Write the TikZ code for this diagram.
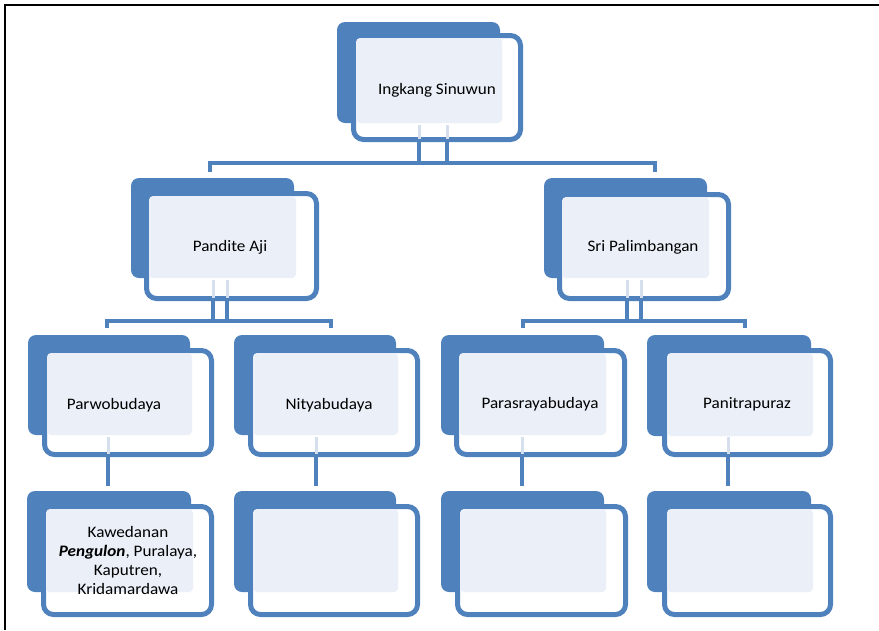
\documentclass[tikz,border=0pt]{standalone}
\usepackage{fontspec}
\setmainfont{Carlito}[FakeStretch=1.07]
\definecolor{dkblue}{RGB}{79,129,189}
\definecolor{ltfill}{RGB}{234,239,248}
\definecolor{faint}{RGB}{214,223,238}
\tikzset{
  conn/.style={draw=dkblue, line width=4pt},
  faintconn/.style={draw=faint, line width=3pt},
  lbl/.style={font=\fontsize{16}{19}\selectfont, text=black, align=center, inner sep=0pt},
}
% name, back x1,y1,x2,y2, front(outer) x1,y1,x2,y2
\newcommand\obox[9]{%
  \fill[dkblue, rounded corners=8pt] (#2,#3) rectangle (#4,#5);
  \draw[dkblue, line width=5pt, fill=white, rounded corners=10pt] (#6+2.5,#7+2.5) rectangle (#8-2.5,#9-2.5);
  \fill[ltfill, rounded corners=4pt] (#6+5,#7+5) rectangle (#4+2,#5);
  \coordinate (#1) at ({(#6+#8)/2},{(#7+#9)/2});
  \coordinate (#1-bt) at ({(#2+#4)/2},#3);
  \coordinate (#1-fb) at ({(#6+#8)/2},#9-2);
}
\begin{document}
\begin{tikzpicture}[x=1pt,y=-1pt]
\useasboundingbox (0,0) rectangle (879,630);
\draw[black, line width=2pt] (5,630) -- (5,5) -- (879,5);

% boxes
\obox{top}{337}{22}{500}{123}{351}{33}{523}{142}
\obox{pa}{131}{178}{294}{278}{144}{191}{319}{301}
\obox{sp}{544}{178}{707}{278}{557}{192}{731}{301}
\obox{pw}{28}{335}{190}{435}{42}{348}{214}{457}
\obox{ny}{234}{335}{396}{435}{248}{348}{420}{457}
\obox{ps}{441}{335}{604}{435}{454}{348}{627}{457}
\obox{pn}{647}{335}{811}{436}{662}{348}{833}{457}
\obox{pwc}{27}{491}{191}{592}{41}{504}{214}{617}
\obox{nyc}{234}{491}{396}{592}{248}{504}{420}{617}
\obox{psc}{441}{491}{604}{592}{455}{504}{628}{617}
\obox{pnc}{647}{491}{811}{592}{662}{504}{833}{617}

% faint connector traces inside frames
\draw[faintconn] (419,125) -- (419,139) (447,125) -- (447,139);
\draw[faintconn] (213,280) -- (213,298) (227,280) -- (227,298);
\draw[faintconn] (627,280) -- (627,298) (641,280) -- (641,298);
\draw[faintconn] (108,437) -- (108,454) (316,437) -- (316,454) (522,437) -- (522,454) (728,437) -- (728,454);

% connectors level 1
\coordinate (h1a) at (419,163); \coordinate (h1b) at (447,163);
\draw[conn] (top-fb -| h1a) -- (h1a);
\draw[conn] (top-fb -| h1b) -- (h1b);
\coordinate (pa-t) at (210,172); \coordinate (sp-t) at (655,172);
\draw[conn] (pa-t) -- (pa-t |- h1a) -- (sp-t |- h1a) -- (sp-t);

% connectors level 2 left
\coordinate (h2a) at (213,321); \coordinate (h2b) at (227,321);
\draw[conn] (pa-fb -| h2a) -- (h2a);
\draw[conn] (pa-fb -| h2b) -- (h2b);
\coordinate (pw-t) at (107,328); \coordinate (ny-t) at (331,328);
\draw[conn] (pw-t) -- (pw-t |- h2a) -- (ny-t |- h2a) -- (ny-t);

% connectors level 2 right
\coordinate (h3a) at (627,321); \coordinate (h3b) at (641,321);
\draw[conn] (sp-fb -| h3a) -- (h3a);
\draw[conn] (sp-fb -| h3b) -- (h3b);
\coordinate (ps-t) at (523,328); \coordinate (pn-t) at (745,328);
\draw[conn] (ps-t) -- (ps-t |- h3a) -- (pn-t |- h3a) -- (pn-t);

% connectors level 3 -> 4
\coordinate (c1) at (108,486); \coordinate (c2) at (316,486);
\coordinate (c3) at (522,486); \coordinate (c4) at (728,486);
\draw[conn] (pw-fb -| c1) -- (c1);
\draw[conn] (ny-fb -| c2) -- (c2);
\draw[conn] (ps-fb -| c3) -- (c3);
\draw[conn] (pn-fb -| c4) -- (c4);

% labels
\node[lbl] (ltop) at (437,90) {Ingkang Sinuwun};
\node[lbl] (lpa) at (230,247) {Pandite Aji};
\node[lbl] (lsp) at (643,247) {Sri Palimbangan};
\node[lbl] (lpw) at (114,405) {Parwobudaya};
\node[lbl] (lny) at (329,405) {Nityabudaya};
\node[lbl] (lps) at (540,404) {Parasrayabudaya};
\node[lbl] (lpn) at (747,404) {Panitrapuraz};
\node[lbl] (lpwc) at (128,560) {Kawedanan\\\textbf{\textit{Pengulon}}, Puralaya,\\Kaputren,\\Kridamardawa};
\end{tikzpicture}
\end{document}
